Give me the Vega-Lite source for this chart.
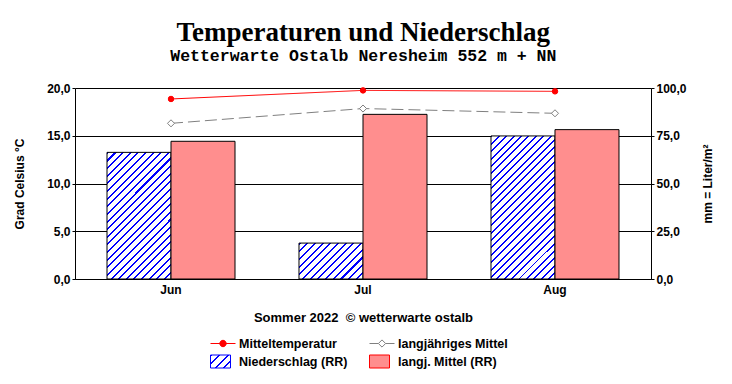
{
  "$schema": "https://vega.github.io/schema/vega-lite/v6.json",
  "width": 576,
  "height": 191,
  "padding": {"left": 13, "top": 18, "right": 0, "bottom": 0},
  "background": "white",
  "title": {
    "text": "Temperaturen und Niederschlag",
    "subtitle": "Wetterwarte Ostalb Neresheim 552 m + NN",
    "font": "Liberation Serif",
    "fontSize": 27,
    "fontWeight": "bold",
    "color": "black",
    "subtitleFont": "Liberation Mono",
    "subtitleFontSize": 16.5,
    "subtitleFontWeight": "bold",
    "subtitleColor": "black",
    "subtitlePadding": 1,
    "offset": 17,
    "anchor": "middle",
    "frame": "bounds"
  },
  "config": {
    "view": {"stroke": null},
    "axis": {
      "labelFont": "Liberation Sans",
      "labelFontSize": 12,
      "labelFontWeight": "bold",
      "labelColor": "black",
      "titleFont": "Liberation Sans",
      "titleFontSize": 12,
      "titleFontWeight": "bold",
      "titleColor": "black",
      "domainColor": "black",
      "tickColor": "black",
      "gridColor": "black",
      "gridOpacity": 1
    }
  },
  "datasets": {
    "rain": [
      {"month": "Jun", "series": "Niederschlag (RR)", "value": 66.3},
      {"month": "Jul", "series": "Niederschlag (RR)", "value": 18.8},
      {"month": "Aug", "series": "Niederschlag (RR)", "value": 74.9},
      {"month": "Jun", "series": "langj. Mittel (RR)", "value": 72.1},
      {"month": "Jul", "series": "langj. Mittel (RR)", "value": 86.2},
      {"month": "Aug", "series": "langj. Mittel (RR)", "value": 78.2}
    ],
    "temp": [
      {"month": "Jun", "series": "Mitteltemperatur", "value": 18.85},
      {"month": "Jul", "series": "Mitteltemperatur", "value": 19.75},
      {"month": "Aug", "series": "Mitteltemperatur", "value": 19.65},
      {"month": "Jun", "series": "langjähriges Mittel", "value": 16.3},
      {"month": "Jul", "series": "langjähriges Mittel", "value": 17.85},
      {"month": "Aug", "series": "langjähriges Mittel", "value": 17.35}
    ]
  },
  "layer": [
    {
      "data": {"name": "rain"},
      "mark": {"type": "bar", "stroke": "black", "strokeWidth": 1},
      "encoding": {
        "x": {
          "field": "month", "type": "nominal", "sort": ["Jun", "Jul", "Aug"],
          "scale": {"paddingInner": 0.3333, "paddingOuter": 0.1667},
          "axis": {
            "title": "Sommer 2022\u00a0 © wetterwarte ostalb",
            "titleFontSize": 13,
            "labelAngle": 0,
            "ticks": false,
            "labelPadding": 5,
            "titlePadding": 16
          }
        },
        "xOffset": {
          "field": "series", "type": "nominal",
          "sort": ["Niederschlag (RR)", "langj. Mittel (RR)"],
          "scale": {"paddingInner": 0, "paddingOuter": 0}
        },
        "y": {
          "field": "value", "type": "quantitative",
          "scale": {"domain": [0, 100], "nice": false},
          "axis": {
            "orient": "right",
            "title": "mm = Liter/m²",
            "values": [0, 25, 50, 75, 100],
            "labelExpr": "replace(format(datum.value, '.1f'), '.', ',')",
            "grid": false,
            "tickSize": 3,
            "labelPadding": 2,
            "titleAngle": 270,
            "titlePadding": 28
          }
        },
        "fill": {
          "condition": [
            {"test": "datum.series === 'Niederschlag (RR)' && datum.month === 'Jun'",
             "value": {"gradient": "linear", "x1": 0, "y1": 0, "x2": 0.6062, "y2": 1.1991, "stops": [
              {"offset":0,"color":"blue"},{"offset":0.0108,"color":"blue"},{"offset":0.0108,"color":"white"},{"offset":0.04,"color":"white"},
              {"offset":0.04,"color":"blue"},{"offset":0.0508,"color":"blue"},{"offset":0.0508,"color":"white"},{"offset":0.08,"color":"white"},
              {"offset":0.08,"color":"blue"},{"offset":0.0908,"color":"blue"},{"offset":0.0908,"color":"white"},{"offset":0.12,"color":"white"},
              {"offset":0.12,"color":"blue"},{"offset":0.1308,"color":"blue"},{"offset":0.1308,"color":"white"},{"offset":0.16,"color":"white"},
              {"offset":0.16,"color":"blue"},{"offset":0.1708,"color":"blue"},{"offset":0.1708,"color":"white"},{"offset":0.2,"color":"white"},
              {"offset":0.2,"color":"blue"},{"offset":0.2108,"color":"blue"},{"offset":0.2108,"color":"white"},{"offset":0.24,"color":"white"},
              {"offset":0.24,"color":"blue"},{"offset":0.2508,"color":"blue"},{"offset":0.2508,"color":"white"},{"offset":0.28,"color":"white"},
              {"offset":0.28,"color":"blue"},{"offset":0.2908,"color":"blue"},{"offset":0.2908,"color":"white"},{"offset":0.32,"color":"white"},
              {"offset":0.32,"color":"blue"},{"offset":0.3308,"color":"blue"},{"offset":0.3308,"color":"white"},{"offset":0.36,"color":"white"},
              {"offset":0.36,"color":"blue"},{"offset":0.3708,"color":"blue"},{"offset":0.3708,"color":"white"},{"offset":0.4,"color":"white"},
              {"offset":0.4,"color":"blue"},{"offset":0.4108,"color":"blue"},{"offset":0.4108,"color":"white"},{"offset":0.44,"color":"white"},
              {"offset":0.44,"color":"blue"},{"offset":0.4508,"color":"blue"},{"offset":0.4508,"color":"white"},{"offset":0.48,"color":"white"},
              {"offset":0.48,"color":"blue"},{"offset":0.4908,"color":"blue"},{"offset":0.4908,"color":"white"},{"offset":0.52,"color":"white"},
              {"offset":0.52,"color":"blue"},{"offset":0.5308,"color":"blue"},{"offset":0.5308,"color":"white"},{"offset":0.56,"color":"white"},
              {"offset":0.56,"color":"blue"},{"offset":0.5708,"color":"blue"},{"offset":0.5708,"color":"white"},{"offset":0.6,"color":"white"},
              {"offset":0.6,"color":"blue"},{"offset":0.6108,"color":"blue"},{"offset":0.6108,"color":"white"},{"offset":0.64,"color":"white"},
              {"offset":0.64,"color":"blue"},{"offset":0.6508,"color":"blue"},{"offset":0.6508,"color":"white"},{"offset":0.68,"color":"white"},
              {"offset":0.68,"color":"blue"},{"offset":0.6908,"color":"blue"},{"offset":0.6908,"color":"white"},{"offset":0.72,"color":"white"},
              {"offset":0.72,"color":"blue"},{"offset":0.7308,"color":"blue"},{"offset":0.7308,"color":"white"},{"offset":0.76,"color":"white"},
              {"offset":0.76,"color":"blue"},{"offset":0.7708,"color":"blue"},{"offset":0.7708,"color":"white"},{"offset":0.8,"color":"white"},
              {"offset":0.8,"color":"blue"},{"offset":0.8108,"color":"blue"},{"offset":0.8108,"color":"white"},{"offset":0.84,"color":"white"},
              {"offset":0.84,"color":"blue"},{"offset":0.8508,"color":"blue"},{"offset":0.8508,"color":"white"},{"offset":0.88,"color":"white"},
              {"offset":0.88,"color":"blue"},{"offset":0.8908,"color":"blue"},{"offset":0.8908,"color":"white"},{"offset":0.92,"color":"white"},
              {"offset":0.92,"color":"blue"},{"offset":0.9308,"color":"blue"},{"offset":0.9308,"color":"white"},{"offset":0.96,"color":"white"},
              {"offset":0.96,"color":"blue"},{"offset":0.9708,"color":"blue"},{"offset":0.9708,"color":"white"},{"offset":1,"color":"white"}
             ]}},
            {"test": "datum.series === 'Niederschlag (RR)' && datum.month === 'Jul'",
             "value": {"gradient": "linear", "x1": 0, "y1": 0, "x2": 1.1873, "y2": 0.666, "stops": [
              {"offset":0,"color":"blue"},{"offset":0.0208,"color":"blue"},{"offset":0.0208,"color":"white"},{"offset":0.0769,"color":"white"},
              {"offset":0.0769,"color":"blue"},{"offset":0.0977,"color":"blue"},{"offset":0.0977,"color":"white"},{"offset":0.1538,"color":"white"},
              {"offset":0.1538,"color":"blue"},{"offset":0.1746,"color":"blue"},{"offset":0.1746,"color":"white"},{"offset":0.2308,"color":"white"},
              {"offset":0.2308,"color":"blue"},{"offset":0.2516,"color":"blue"},{"offset":0.2516,"color":"white"},{"offset":0.3077,"color":"white"},
              {"offset":0.3077,"color":"blue"},{"offset":0.3285,"color":"blue"},{"offset":0.3285,"color":"white"},{"offset":0.3846,"color":"white"},
              {"offset":0.3846,"color":"blue"},{"offset":0.4054,"color":"blue"},{"offset":0.4054,"color":"white"},{"offset":0.4615,"color":"white"},
              {"offset":0.4615,"color":"blue"},{"offset":0.4823,"color":"blue"},{"offset":0.4823,"color":"white"},{"offset":0.5385,"color":"white"},
              {"offset":0.5385,"color":"blue"},{"offset":0.5593,"color":"blue"},{"offset":0.5593,"color":"white"},{"offset":0.6154,"color":"white"},
              {"offset":0.6154,"color":"blue"},{"offset":0.6362,"color":"blue"},{"offset":0.6362,"color":"white"},{"offset":0.6923,"color":"white"},
              {"offset":0.6923,"color":"blue"},{"offset":0.7131,"color":"blue"},{"offset":0.7131,"color":"white"},{"offset":0.7692,"color":"white"},
              {"offset":0.7692,"color":"blue"},{"offset":0.79,"color":"blue"},{"offset":0.79,"color":"white"},{"offset":0.8462,"color":"white"},
              {"offset":0.8462,"color":"blue"},{"offset":0.867,"color":"blue"},{"offset":0.867,"color":"white"},{"offset":0.9231,"color":"white"},
              {"offset":0.9231,"color":"blue"},{"offset":0.9439,"color":"blue"},{"offset":0.9439,"color":"white"},{"offset":1,"color":"white"}
             ]}},
            {"test": "datum.series === 'Niederschlag (RR)' && datum.month === 'Aug'",
             "value": {"gradient": "linear", "x1": 0, "y1": 0, "x2": 0.5394, "y2": 1.206, "stops": [
              {"offset":0,"color":"blue"},{"offset":0.0096,"color":"blue"},{"offset":0.0096,"color":"white"},{"offset":0.0357,"color":"white"},
              {"offset":0.0357,"color":"blue"},{"offset":0.0453,"color":"blue"},{"offset":0.0453,"color":"white"},{"offset":0.0714,"color":"white"},
              {"offset":0.0714,"color":"blue"},{"offset":0.081,"color":"blue"},{"offset":0.081,"color":"white"},{"offset":0.1071,"color":"white"},
              {"offset":0.1071,"color":"blue"},{"offset":0.1167,"color":"blue"},{"offset":0.1167,"color":"white"},{"offset":0.1429,"color":"white"},
              {"offset":0.1429,"color":"blue"},{"offset":0.1525,"color":"blue"},{"offset":0.1525,"color":"white"},{"offset":0.1786,"color":"white"},
              {"offset":0.1786,"color":"blue"},{"offset":0.1882,"color":"blue"},{"offset":0.1882,"color":"white"},{"offset":0.2143,"color":"white"},
              {"offset":0.2143,"color":"blue"},{"offset":0.2239,"color":"blue"},{"offset":0.2239,"color":"white"},{"offset":0.25,"color":"white"},
              {"offset":0.25,"color":"blue"},{"offset":0.2596,"color":"blue"},{"offset":0.2596,"color":"white"},{"offset":0.2857,"color":"white"},
              {"offset":0.2857,"color":"blue"},{"offset":0.2953,"color":"blue"},{"offset":0.2953,"color":"white"},{"offset":0.3214,"color":"white"},
              {"offset":0.3214,"color":"blue"},{"offset":0.331,"color":"blue"},{"offset":0.331,"color":"white"},{"offset":0.3571,"color":"white"},
              {"offset":0.3571,"color":"blue"},{"offset":0.3667,"color":"blue"},{"offset":0.3667,"color":"white"},{"offset":0.3929,"color":"white"},
              {"offset":0.3929,"color":"blue"},{"offset":0.4025,"color":"blue"},{"offset":0.4025,"color":"white"},{"offset":0.4286,"color":"white"},
              {"offset":0.4286,"color":"blue"},{"offset":0.4382,"color":"blue"},{"offset":0.4382,"color":"white"},{"offset":0.4643,"color":"white"},
              {"offset":0.4643,"color":"blue"},{"offset":0.4739,"color":"blue"},{"offset":0.4739,"color":"white"},{"offset":0.5,"color":"white"},
              {"offset":0.5,"color":"blue"},{"offset":0.5096,"color":"blue"},{"offset":0.5096,"color":"white"},{"offset":0.5357,"color":"white"},
              {"offset":0.5357,"color":"blue"},{"offset":0.5453,"color":"blue"},{"offset":0.5453,"color":"white"},{"offset":0.5714,"color":"white"},
              {"offset":0.5714,"color":"blue"},{"offset":0.581,"color":"blue"},{"offset":0.581,"color":"white"},{"offset":0.6071,"color":"white"},
              {"offset":0.6071,"color":"blue"},{"offset":0.6167,"color":"blue"},{"offset":0.6167,"color":"white"},{"offset":0.6429,"color":"white"},
              {"offset":0.6429,"color":"blue"},{"offset":0.6525,"color":"blue"},{"offset":0.6525,"color":"white"},{"offset":0.6786,"color":"white"},
              {"offset":0.6786,"color":"blue"},{"offset":0.6882,"color":"blue"},{"offset":0.6882,"color":"white"},{"offset":0.7143,"color":"white"},
              {"offset":0.7143,"color":"blue"},{"offset":0.7239,"color":"blue"},{"offset":0.7239,"color":"white"},{"offset":0.75,"color":"white"},
              {"offset":0.75,"color":"blue"},{"offset":0.7596,"color":"blue"},{"offset":0.7596,"color":"white"},{"offset":0.7857,"color":"white"},
              {"offset":0.7857,"color":"blue"},{"offset":0.7953,"color":"blue"},{"offset":0.7953,"color":"white"},{"offset":0.8214,"color":"white"},
              {"offset":0.8214,"color":"blue"},{"offset":0.831,"color":"blue"},{"offset":0.831,"color":"white"},{"offset":0.8571,"color":"white"},
              {"offset":0.8571,"color":"blue"},{"offset":0.8667,"color":"blue"},{"offset":0.8667,"color":"white"},{"offset":0.8929,"color":"white"},
              {"offset":0.8929,"color":"blue"},{"offset":0.9025,"color":"blue"},{"offset":0.9025,"color":"white"},{"offset":0.9286,"color":"white"},
              {"offset":0.9286,"color":"blue"},{"offset":0.9382,"color":"blue"},{"offset":0.9382,"color":"white"},{"offset":0.9643,"color":"white"},
              {"offset":0.9643,"color":"blue"},{"offset":0.9739,"color":"blue"},{"offset":0.9739,"color":"white"},{"offset":1,"color":"white"}
             ]}}
          ],
          "value": "#ff8e8e"
        }
      }
    },
    {
      "data": {"name": "temp"},
      "layer": [
        {
          "mark": {"type": "line", "strokeWidth": 1},
          "encoding": {
            "x": {"field": "month", "type": "nominal", "sort": ["Jun", "Jul", "Aug"]},
            "y": {
              "field": "value", "type": "quantitative",
              "scale": {"domain": [0, 20], "nice": false},
              "axis": {
                "orient": "left",
                "title": "Grad Celsius °C",
                "values": [0, 5, 10, 15, 20],
                "labelExpr": "replace(format(datum.value, '.1f'), '.', ',')",
                "grid": true,
                "tickSize": 3,
                "labelPadding": 2,
                "titlePadding": 20
              }
            },
            "color": {
              "field": "series", "type": "nominal",
              "scale": {
                "domain": ["Mitteltemperatur", "langjähriges Mittel", "Niederschlag (RR)", "langj. Mittel (RR)"],
                "range": ["#ff0000", "#808080", "#0000ff", "#ff0000"]
              },
              "legend": {
                "title": null,
                "orient": "none",
                "legendX": 135,
                "legendY": 247,
                "direction": "horizontal",
                "columns": 2,
                "symbolSize": 256,
                "labelOffset": 12,
                "columnPadding": 19,
                "rowPadding": 3,
                "labelFont": "Liberation Sans",
                "labelFontSize": 12.5,
                "labelFontWeight": "bold",
                "labelColor": "black",
                "labelLimit": 300,
                "encode": {
                  "symbols": {
                    "update": {
                      "shape": [
                        {"test": "datum.value === 'Mitteltemperatur'", "value": "M-1,0L2.125,0M0.1625,0A0.4,0.4,0,1,1,0.9625,0A0.4,0.4,0,1,1,0.1625,0Z"},
                        {"test": "datum.value === 'langjähriges Mittel'", "value": "M-1,0L0.1125,0M1.0125,0L2.125,0M0.1125,0L0.5625,-0.45L1.0125,0L0.5625,0.45Z"},
                        {"value": "M-1,-0.8125L1.5,-0.8125L1.5,0.8125L-1,0.8125Z"}
                      ],
                      "fill": [
                        {"test": "datum.value === 'Mitteltemperatur'", "value": "#ff0000"},
                        {"test": "datum.value === 'langjähriges Mittel'", "value": "#ffffff"},
                        {"test": "datum.value === 'Niederschlag (RR)'", "value": {"gradient": "linear", "x1": 0, "y1": 0, "x2": 1.16, "y2": 0.754, "stops": [
                          {"offset":0,"color":"blue"},{"offset":0.0675,"color":"blue"},{"offset":0.0675,"color":"white"},{"offset":0.25,"color":"white"},
                          {"offset":0.25,"color":"blue"},{"offset":0.3175,"color":"blue"},{"offset":0.3175,"color":"white"},{"offset":0.5,"color":"white"},
                          {"offset":0.5,"color":"blue"},{"offset":0.5675,"color":"blue"},{"offset":0.5675,"color":"white"},{"offset":0.75,"color":"white"},
                          {"offset":0.75,"color":"blue"},{"offset":0.8175,"color":"blue"},{"offset":0.8175,"color":"white"},{"offset":1,"color":"white"}
                        ]}},
                        {"value": "#ff8e8e"}
                      ],
                      "stroke": [
                        {"test": "datum.value === 'Mitteltemperatur'", "value": "#ff0000"},
                        {"test": "datum.value === 'langjähriges Mittel'", "value": "#808080"},
                        {"value": "#000000"}
                      ],
                      "strokeWidth": {"value": 1},
                      "strokeDash": {"value": []},
                      "opacity": {"value": 1},
                      "fillOpacity": {"value": 1},
                      "strokeOpacity": {"value": 1}
                    }
                  }
                }
              }
            },
            "strokeDash": {
              "condition": {"test": "datum.series === 'langjähriges Mittel'", "value": [12, 5]},
              "value": [1, 0]
            }
          }
        },
        {
          "mark": {"type": "point", "opacity": 1, "strokeWidth": 1},
          "encoding": {
            "x": {"field": "month", "type": "nominal", "sort": ["Jun", "Jul", "Aug"]},
            "y": {"field": "value", "type": "quantitative"},
            "color": {"field": "series", "type": "nominal"},
            "fill": {
              "condition": {"test": "datum.series === 'langjähriges Mittel'", "value": "#ffffff"},
              "value": "#ff0000"
            },
            "shape": {
              "condition": {"test": "datum.series === 'langjähriges Mittel'", "value": "diamond"},
              "value": "circle"
            },
            "size": {
              "condition": {"test": "datum.series === 'langjähriges Mittel'", "value": 50},
              "value": 30
            }
          }
        }
      ]
    }
  ],
  "resolve": {"scale": {"y": "independent"}}
}
